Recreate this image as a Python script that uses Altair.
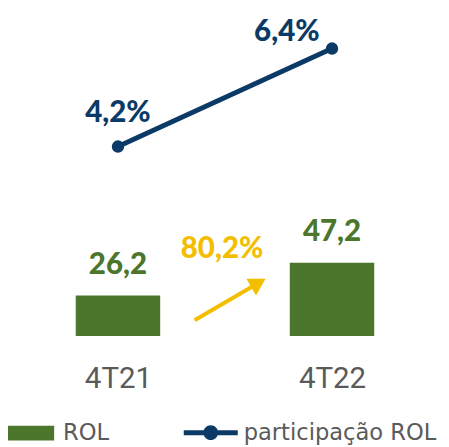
import altair as alt
import pandas as pd

categorias = ["4T21", "4T22"]
rol = [26.2, 47.2]
rol_labels = ["26,2", "47,2"]
participacao = [4.2, 6.4]
part_labels = ["4,2%", "6,4%"]
crescimento = ["80,2%"]

GREEN = "#4B762B"
NAVY = "#0B3A66"
YELLOW = "#F4BE00"
GRAY = "#5A5A5A"
BOLD = 900

df = pd.DataFrame({
    "cat": categorias,
    "rol": rol,
    "rol_lbl": rol_labels,
    "part": participacao,
    "part_lbl": part_labels,
    "serie_bar": ["ROL"] * 2,
    "serie_line": ["participação ROL"] * 2,
})
ann = pd.DataFrame({"lbl": crescimento})

base = alt.Chart(df)
xs = alt.Scale(type="point", domain=categorias, range=[112, 330], padding=0)
x_axis = alt.X("cat:N", scale=xs, axis=alt.Axis(
    title=None, domain=False, ticks=False, labelAngle=0, labelFontSize=30,
    labelFont="Roboto", labelColor=GRAY, labelPadding=28, grid=False))

yb = alt.Y("rol:Q", scale=alt.Scale(domain=[0, 209], nice=False, zero=True), axis=None)
yl = alt.Y("part:Q", scale=alt.Scale(domain=[-0.05, 7.22], nice=False, zero=False), axis=None)

bars = base.mark_bar(size=86).encode(
    x=x_axis, y=yb,
    color=alt.Color("serie_bar:N", scale=alt.Scale(domain=["ROL"], range=[GREEN]),
                    legend=alt.Legend(orient="none", legendX=-1, legendY=405, title=None,
                                      symbolType="M-1,-0.3125H1V0.3125H-1Z", symbolSize=2304,
                                      symbolStrokeWidth=0, symbolOpacity=1,
                                      labelFontSize=23, labelFont="DejaVu Sans", labelColor=GRAY,
                                      labelOffset=9, padding=0, labelLimit=300)),
)
bar_text = base.mark_text(dy=-31, baseline="middle", fontSize=30, font="Lato", fontWeight=BOLD,
                          color=GREEN).encode(x=x_axis, y=yb, text="rol_lbl:N")

line = base.mark_line(strokeWidth=5, color=NAVY).encode(x=x_axis, y=yl)
pts = base.mark_point(filled=True, size=160, opacity=1).encode(
    x=x_axis, y=yl,
    color=alt.Color("serie_line:N", scale=alt.Scale(domain=["participação ROL"], range=[NAVY]),
                    legend=alt.Legend(orient="none", legendX=179, legendY=401, title=None,
                                      symbolType="M-1,-0.09H-0.2V0.09H-1Z M0.2,-0.09H1V0.09H0.2Z M-0.273,0A0.273,0.273,0,1,1,0.273,0A0.273,0.273,0,1,1,-0.273,0Z",
                                      symbolSize=3025, symbolStrokeWidth=0, symbolOpacity=1,
                                      labelFontSize=23, labelFont="DejaVu Sans", labelColor=GRAY,
                                      labelOffset=6, padding=0, labelLimit=300)),
)
t1 = base.transform_filter(alt.datum.cat == categorias[0]).mark_text(
    dx=0, dy=-34, baseline="middle", fontSize=30, font="Lato", fontWeight=BOLD, color=NAVY
).encode(x=x_axis, y=yl, text="part_lbl:N")
t2 = base.transform_filter(alt.datum.cat == categorias[1]).mark_text(
    dx=-46, dy=-17, baseline="middle", fontSize=30, font="Lato", fontWeight=BOLD, color=NAVY
).encode(x=x_axis, y=yl, text="part_lbl:N")

abase = alt.Chart(ann)
arrow = abase.mark_rule(strokeWidth=4, color=YELLOW).encode(
    x=alt.value(190), y=alt.value(314), x2=alt.value(255), y2=alt.value(276))
head = abase.mark_point(shape="triangle-up", filled=True, size=380, angle=60, opacity=1,
                        color=YELLOW).encode(x=alt.value(255), y=alt.value(276))
gtext = abase.mark_text(baseline="middle", fontSize=30, font="Lato", fontWeight=BOLD,
                        color=YELLOW).encode(x=alt.value(218), y=alt.value(242), text="lbl:N")

chart = alt.layer(bars, bar_text, line, pts, t1, t2, arrow, head, gtext).resolve_scale(
    y="independent", color="independent"
).properties(
    width=441, height=330,
    autosize=alt.AutoSizeParams(type="none"),
    padding={"left": 0, "top": 0, "right": 0, "bottom": 109},
).configure_view(stroke=None)

chart.save("out.html", embed_options={"renderer": "svg", "actions": False})
